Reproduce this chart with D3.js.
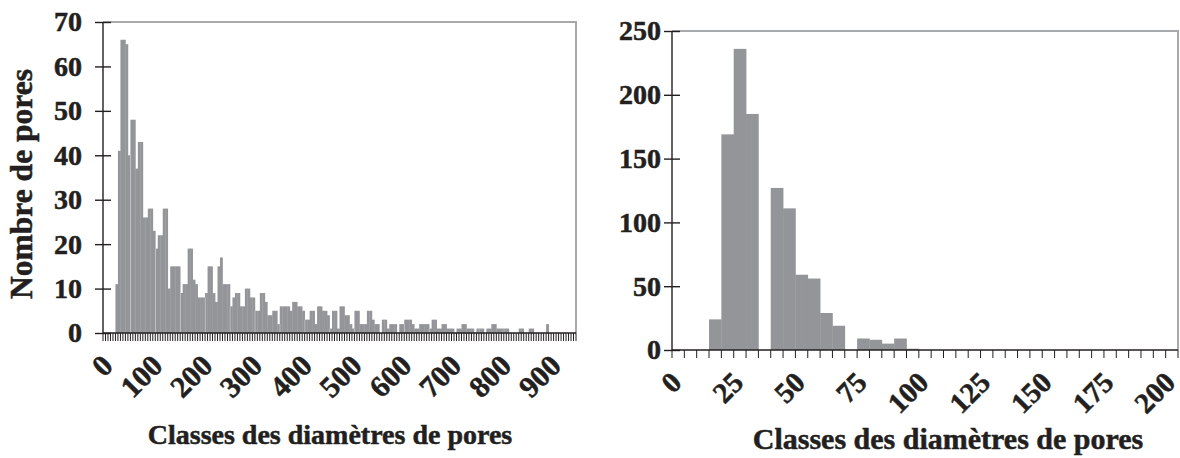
<!DOCTYPE html>
<html>
<head>
<meta charset="utf-8">
<script src="https://cdn.jsdelivr.net/npm/d3@7/dist/d3.min.js"></script>
<style>
  html, body { margin: 0; padding: 0; background: #fff; }
  svg { display: block; }
  text { font-family: "Liberation Serif", "Times New Roman", serif; font-weight: bold; fill: #231f20;
         stroke: #231f20; stroke-width: 0.5px; }
</style>
</head>
<body>
<svg id="chart" width="1180" height="458"></svg>
<script>
// Pore counts per 5-unit diameter class (left: 0–945, right: 0–200)
const leftCounts = [
  0, 0, 0, 0, 0, 11, 41, 66, 66, 65,
  40, 48, 48, 37, 43, 43, 26, 26, 28, 28,
  23, 19, 22, 22, 28, 28, 10, 15, 15, 15,
  15, 9, 11, 11, 19, 19, 12, 11, 8, 8,
  8, 9, 15, 15, 9, 7, 15, 17, 11, 11,
  11, 6, 8, 9, 9, 6, 6, 10, 10, 8,
  8, 5, 5, 9, 9, 7, 4, 4, 5, 5,
  2, 6, 6, 6, 6, 5, 7, 7, 6, 6,
  5, 3, 3, 5, 5, 2, 6, 6, 5, 5,
  4, 1, 5, 5, 1, 6, 6, 4, 4, 2,
  1, 5, 5, 2, 2, 2, 5, 5, 3, 2,
  2, 0, 3, 3, 1, 2, 2, 2, 0, 2,
  2, 3, 3, 3, 2, 1, 1, 2, 2, 2,
  2, 1, 3, 3, 1, 1, 2, 2, 1, 1,
  1, 0, 1, 1, 2, 2, 1, 1, 1, 0,
  1, 1, 1, 0, 1, 1, 2, 2, 1, 1,
  1, 1, 1, 0, 0, 0, 0, 1, 1, 0,
  0, 1, 1, 0, 0, 0, 0, 0, 2, 0,
  0, 0, 0, 0, 0, 0, 0, 0, 0, 0
];
const rightCounts = [
  0, 0, 0, 24, 169, 236, 185, 0, 127, 111,
  59, 56, 29, 19, 0, 9, 8, 5, 9, 1,
  0, 0, 0, 0, 0, 0, 0, 0, 0, 0,
  0, 0, 0, 0, 0, 0, 0, 0, 0, 0,
  0
];
const classWidth = 5;
const leftCategories = d3.range(leftCounts.length).map(i => i * classWidth);
const rightCategories = d3.range(rightCounts.length).map(i => i * classWidth);

const leftXTickLabels = ["0", "100", "200", "300", "400", "500", "600", "700", "800", "900"];
const rightXTickLabels = ["0", "25", "50", "75", "100", "125", "150", "175", "200"];
const leftYTicks = [0, 10, 20, 30, 40, 50, 60, 70];
const rightYTicks = [0, 50, 100, 150, 200, 250];

const xTitle = "Classes des diamètres de pores";
const yTitle = "Nombre de pores";

const INK = "#231f20";
const BAR = "#939598";
const FRAME = "#a7a9ac";

const svg = d3.select("#chart");

function histogramPanel(opts) {
  const { left, right, top, bottom, cats, counts, yMax, yTicks, xLabels,
          yLabelFont, xLabelFont, yLabelPad, xLabelShift, titleFont, titleX, titleY, seams } = opts;
  const g = svg.append("g");

  const x = d3.scaleBand().domain(cats).range([left, right]).padding(0);
  const y = d3.scaleLinear().domain([0, yMax]).range([bottom, top]);
  const bw = x.bandwidth();

  // plot-area frame (top and right edges)
  g.append("path")
    .attr("d", `M${left},${top}H${right}V${bottom}`)
    .attr("fill", "none").attr("stroke", FRAME).attr("stroke-width", 2);

  // columns
  g.append("g").selectAll("rect")
    .data(cats.map((c, i) => ({ c, v: counts[i] })).filter(d => d.v > 0))
    .join("rect")
    .attr("x", d => x(d.c))
    .attr("width", bw + 0.35)
    .attr("y", d => y(d.v))
    .attr("height", d => y(0) - y(d.v))
    .attr("fill", BAR);

  // faint seams between some adjacent columns
  if (seams) {
    const s = g.append("g");
    for (let i = seams.start; i < cats.length; i += seams.step) {
      const h = Math.min(counts[i - 1] || 0, counts[i] || 0);
      if (h <= 0) continue;
      s.append("line")
        .attr("x1", x(cats[i]) + 0.2).attr("x2", x(cats[i]) + 0.2)
        .attr("y1", y(0)).attr("y2", y(h))
        .attr("stroke", "#ffffff").attr("stroke-opacity", 0.45).attr("stroke-width", 0.8);
    }
  }

  // y axis with ticks crossing the line
  const yAxis = g.append("g")
    .attr("transform", `translate(${left},0)`)
    .call(d3.axisLeft(y).tickValues(yTicks).tickSize(8).tickPadding(yLabelPad).tickFormat(d3.format("d")));
  yAxis.select(".domain").attr("stroke", INK).attr("stroke-width", 1.4)
    .attr("d", `M0,${bottom}V${top}`);
  yAxis.selectAll(".tick line").attr("x1", -8).attr("x2", 8)
    .attr("stroke", INK).attr("stroke-width", 1.4);
  yAxis.selectAll(".tick text")
    .style("font-size", yLabelFont + "px").attr("fill", INK);

  // x axis: line, one tick per class boundary, rotated labels on selected classes
  const xAxisG = g.append("g").attr("transform", `translate(0,${bottom})`);
  xAxisG.append("line")
    .attr("x1", left).attr("x2", right).attr("y1", 0).attr("y2", 0)
    .attr("stroke", INK).attr("stroke-width", 1.4);
  const bounds = cats.map(c => x(c)).concat([right]);
  xAxisG.selectAll("line.tk").data(bounds).join("line")
    .attr("class", "tk")
    .attr("x1", d => d).attr("x2", d => d)
    .attr("y1", 0).attr("y2", 8)
    .attr("stroke", INK).attr("stroke-width", 1);

  const labelCats = cats.filter(c => xLabels.includes(String(c)));
  const xAxis = g.append("g")
    .attr("transform", `translate(0,${bottom})`)
    .call(d3.axisBottom(x).tickValues(labelCats).tickSize(0).tickFormat(d => String(d)));
  xAxis.select(".domain").remove();
  xAxis.selectAll(".tick text")
    .style("font-size", xLabelFont + "px").attr("fill", INK)
    .attr("text-anchor", "end")
    .attr("y", 0).attr("dy", "0.35em")
    .attr("transform", `translate(${xLabelShift},27) rotate(-45)`);

  // x title
  g.append("text")
    .attr("x", titleX).attr("y", titleY)
    .attr("text-anchor", "middle")
    .style("font-size", titleFont + "px")
    .text(xTitle);

  return { x, y };
}

histogramPanel({
  left: 103, right: 576, top: 22, bottom: 333,
  cats: leftCategories, counts: leftCounts, yMax: 70, yTicks: leftYTicks,
  xLabels: leftXTickLabels, yLabelFont: 28, xLabelFont: 30, yLabelPad: 13, xLabelShift: 3,
  titleFont: 28, titleX: 330, titleY: 444,
  seams: { start: 11, step: 10 }
});

histogramPanel({
  left: 672, right: 1178, top: 31, bottom: 350,
  cats: rightCategories, counts: rightCounts, yMax: 250, yTicks: rightYTicks,
  xLabels: rightXTickLabels, yLabelFont: 28, xLabelFont: 29, yLabelPad: 3, xLabelShift: -2,
  titleFont: 30, titleX: 948, titleY: 449,
  seams: null
});

// y title for the left panel
svg.append("text")
  .attr("transform", "translate(32,184) rotate(-90)")
  .attr("text-anchor", "middle")
  .style("font-size", "31.5px")
  .text(yTitle);
</script>
</body>
</html>
